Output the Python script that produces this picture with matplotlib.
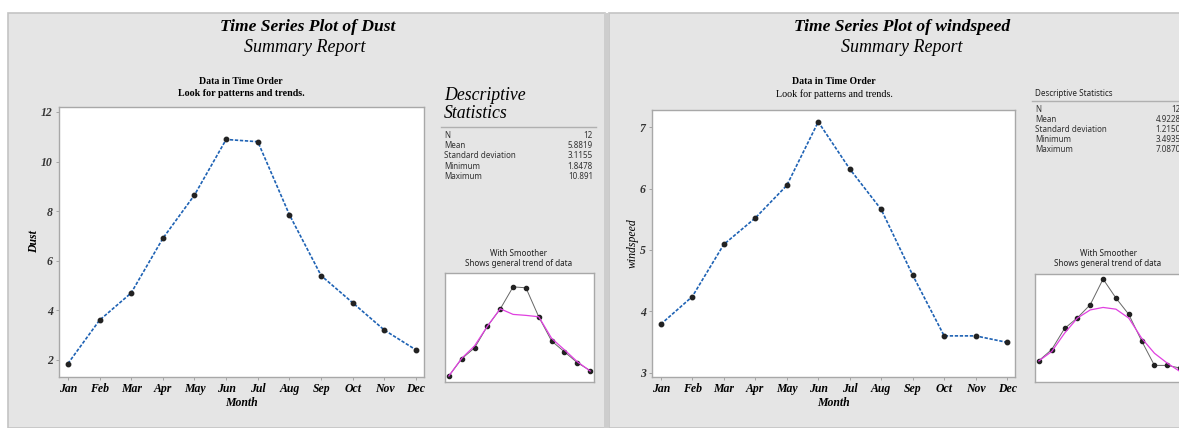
import matplotlib
matplotlib.use("Agg")
import matplotlib.pyplot as plt
from matplotlib.patches import Rectangle

months = ["Jan", "Feb", "Mar", "Apr", "May", "Jun", "Jul", "Aug", "Sep", "Oct", "Nov", "Dec"]
dust = [1.848, 3.6, 4.7, 6.9, 8.65, 10.891, 10.8, 7.85, 5.4, 4.3, 3.2, 2.4]
dust_smooth = [1.85, 3.64, 4.9, 6.9, 8.67, 8.1, 8.0, 7.86, 5.67, 4.5, 3.3, 2.35]
wind = [3.79, 4.24, 5.09, 5.52, 6.05, 7.087, 6.32, 5.66, 4.59, 3.6, 3.6, 3.494]
wind_smooth = [3.78, 4.16, 4.9, 5.51, 5.84, 5.94, 5.87, 5.51, 4.7, 4.09, 3.69, 3.35]

stat_names = ["N", "Mean", "Standard deviation", "Minimum", "Maximum"]
dust_stats = ["12", "5.8819", "3.1155", "1.8478", "10.891"]
wind_stats = ["12", "4.9228", "1.2150", "3.4935", "7.0870"]

W, H = 1179, 428
fig = plt.figure(figsize=(W / 100, H / 100), dpi=100)
fig.patch.set_facecolor("white")

serif = "Liberation Serif"
sans = "Noto Sans"
panel = "#e5e5e5"


def box(x0, y0, x1, y1):
    return [x0 / W, 1 - y1 / H, (x1 - x0) / W, (y1 - y0) / H]


def ftext(x, y, s, **kw):
    fig.text(x / W, 1 - y / H, s, **kw)


# grey report panels
fig.add_artist(Rectangle((8 / W, 0), (599 - 8) / W + 0.005, 1 - 13 / H, transform=fig.transFigure,
                         facecolor=panel, edgecolor="#c4c4c4", lw=1.2, zorder=0))
fig.add_artist(Rectangle((609 / W, 0), 1, 1 - 13 / H, transform=fig.transFigure,
                         facecolor=panel, edgecolor="#c4c4c4", lw=1.2, zorder=0))
fig.add_artist(Rectangle((604 / W, 0), 4 / W, 1 - 13 / H, transform=fig.transFigure,
                         facecolor="#cdcdcd", edgecolor="none", zorder=0))
xs = list(range(len(months)))


def main_plot(rect, vals, yticks, ylim, ylabel, ybold, lpad):
    ax = fig.add_axes(box(*rect))
    ax.plot(xs, vals, color="#1e62b4", lw=1.2, ls=(0, (2, 1)), marker="o", ms=3.2,
            mfc="#222222", mec="#222222", zorder=3)
    ax.set_xlim(-0.28, 11.25)
    ax.set_ylim(*ylim)
    ax.set_xticks(xs)
    ax.set_xticklabels(months, family=serif, style="italic", weight="bold", fontsize=8.5)
    ax.set_yticks(yticks)
    ax.set_yticklabels([str(t) for t in yticks], family=serif, style="italic", weight="bold",
                       fontsize=8.5, color="#333333")
    ax.tick_params(length=2.5, width=0.6, color="#999999", pad=2)
    for s in ax.spines.values():
        s.set_color("#a8a8a8")
        s.set_linewidth(1.0)
    ax.set_xlabel("Month", family=serif, style="italic", weight="bold", fontsize=8.5, labelpad=1)
    ax.set_ylabel(ylabel, family=serif, style="italic", weight="bold" if ybold else "normal",
                  fontsize=8.5, labelpad=lpad)
    return ax


def mini_plot(rect, vals, smooth, ylim):
    ax = fig.add_axes(box(*rect))
    ax.plot(xs, vals, color="#666666", lw=0.7, marker="o", ms=3, mfc="#222222", mec="#222222")
    ax.plot(xs, smooth, color="#e040e0", lw=0.9)
    ax.set_xlim(-0.3, 11.3)
    ax.set_ylim(*ylim)
    ax.set_xticks([])
    ax.set_yticks([])
    for s in ax.spines.values():
        s.set_color("#a8a8a8")
        s.set_linewidth(1.0)
    return ax


# ---------------- left report: Dust ----------------
ftext(308, 27, "Time Series Plot of Dust", family=serif, style="italic", weight="bold",
      fontsize=12.6, ha="center", va="center")
ftext(305, 47, "Summary Report", family=serif, style="italic", fontsize=13, ha="center", va="center")
ftext(241, 81, "Data in Time Order", family=serif, weight="bold", fontsize=7, ha="center", va="center")
ftext(241, 93, "Look for patterns and trends.", family=serif, weight="bold", fontsize=7.2,
      ha="center", va="center")

main_plot((59, 107, 424, 377), dust, [2, 4, 6, 8, 10, 12], (1.31, 12.2), "Dust", True, 1)

ftext(444, 95, "Descriptive", family=serif, style="italic", fontsize=12.8, ha="left", va="center")
ftext(444, 114, "Statistics", family=serif, style="italic", fontsize=12.8, ha="left", va="center")
fig.add_artist(plt.Line2D([441 / W, 596 / W], [1 - 127 / H, 1 - 127 / H], color="#b0b0b0", lw=1))
for i, (n, v) in enumerate(zip(stat_names, dust_stats)):
    y = 135 + i * 10.5
    ftext(444, y, n, family=sans, fontsize=5.8, color="#333333", ha="left", va="center")
    ftext(593, y, v, family=sans, fontsize=5.8, color="#333333", ha="right", va="center")

ftext(519, 253, "With Smoother", family=sans, fontsize=5.8, color="#222222", ha="center", va="center")
ftext(519, 263, "Shows general trend of data", family=sans, fontsize=5.8, color="#222222",
      ha="center", va="center")
mini_plot((445, 273, 594, 382), dust, dust_smooth, (1.24, 12.3))

# ---------------- right report: windspeed ----------------
ftext(902, 27, "Time Series Plot of windspeed", family=serif, style="italic", weight="bold",
      fontsize=12.6, ha="center", va="center")
ftext(902, 48, "Summary Report", family=serif, style="italic", fontsize=13, ha="center", va="center")
ftext(834, 82, "Data in Time Order", family=serif, weight="bold", fontsize=7, ha="center", va="center")
ftext(834, 94, "Look for patterns and trends.", family=serif, fontsize=7.2, ha="center", va="center")

main_plot((652, 110, 1015, 377), wind, [3, 4, 5, 6, 7], (2.93, 7.28), "windspeed", False, 1)

ftext(1035, 93, "Descriptive Statistics", family=sans, fontsize=5.8, color="#222222",
      ha="left", va="center")
fig.add_artist(plt.Line2D([1032 / W, 1.0], [1 - 101 / H, 1 - 101 / H], color="#b0b0b0", lw=1))
for i, (n, v) in enumerate(zip(stat_names, wind_stats)):
    y = 109 + i * 10
    ftext(1035, y, n, family=sans, fontsize=5.8, color="#333333", ha="left", va="center")
    ftext(1181, y, v, family=sans, fontsize=5.8, color="#333333", ha="right", va="center")

ftext(1108, 254, "With Smoother", family=sans, fontsize=5.8, color="#222222", ha="center", va="center")
ftext(1108, 263, "Shows general trend of data", family=sans, fontsize=5.8, color="#222222",
      ha="center", va="center")
mini_plot((1035, 274, 1184, 382), wind, wind_smooth, (2.93, 7.29))

fig.savefig("out.png", dpi=100)
